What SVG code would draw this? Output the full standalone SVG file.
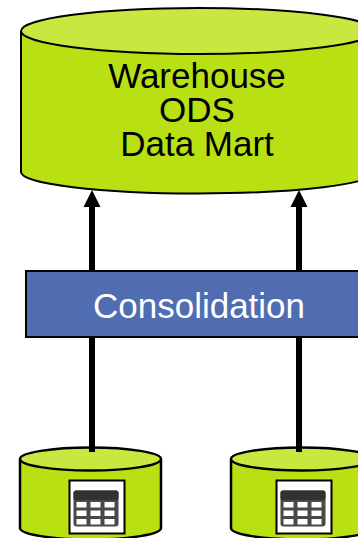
<svg xmlns="http://www.w3.org/2000/svg" xmlns:xlink="http://www.w3.org/1999/xlink" width="358" height="538" viewBox="0 0 358 538">
<style>
.body{fill:#b9e013;stroke:#000;stroke-width:2.5}
.top{fill:#c8e840;stroke:#000;stroke-width:2.5}
.big{stroke-width:2}
.lbl{font-family:"Liberation Sans",Arial,sans-serif;font-size:35px;text-anchor:middle}
.conn{stroke:#000;stroke-width:6;fill:none}
.head{fill:#000}
.frame{fill:#fff;stroke:#000;stroke-width:2}
.cell{fill:#fff}
</style>
<defs>
<filter id="soft" x="-10%" y="-10%" width="120%" height="120%"><feGaussianBlur stdDeviation="0.7"/></filter>
<g id="tableIcon">
<rect x="0.500" y="0.500" width="55" height="53" class="frame"/>
<g filter="url(#soft)">
<rect x="4.500" y="10.500" width="45" height="36" rx="3" fill="#484848"/>
<rect x="4.500" y="10.500" width="45" height="9.500" rx="2" fill="#333"/>
<rect x="7.500" y="22" width="10" height="5.500" class="cell"/>
<rect x="21.500" y="22" width="10" height="5.500" class="cell"/>
<rect x="35.500" y="22" width="10" height="5.500" class="cell"/>
<rect x="7.500" y="30.500" width="10" height="5.500" class="cell"/>
<rect x="21.500" y="30.500" width="10" height="5.500" class="cell"/>
<rect x="35.500" y="30.500" width="10" height="5.500" class="cell"/>
<rect x="7.500" y="39" width="10" height="5.500" class="cell"/>
<rect x="21.500" y="39" width="10" height="5.500" class="cell"/>
<rect x="35.500" y="39" width="10" height="5.500" class="cell"/>
</g>
</g>
</defs>
<g id="warehouse">
<path class="body big" d="M21 31V172A177 21.500 0 0 0 375 172V31"/>
<ellipse class="top big" cx="198" cy="31" rx="177" ry="23"/>
<text class="lbl" x="197" y="88">Warehouse</text>
<text class="lbl" x="197" y="122">ODS</text>
<text class="lbl" x="197" y="155.500">Data Mart</text>
</g>
<g id="source-left">
<path class="body" d="M20 459V528A70.500 11.500 0 0 0 161 528V459"/>
<ellipse class="top" cx="90.500" cy="459" rx="70.500" ry="11.500"/>
<use xlink:href="#tableIcon" href="#tableIcon" x="69" y="480"/>
</g>
<g id="source-right">
<path class="body" d="M231 459V528A70.500 11.500 0 0 0 372 528V459"/>
<ellipse class="top" cx="301.500" cy="459" rx="70.500" ry="11.500"/>
<use xlink:href="#tableIcon" href="#tableIcon" x="276" y="480"/>
</g>
<g id="connectors">
<path class="conn" d="M92 452V205"/>
<path class="conn" d="M299 452V205"/>
<path class="head" d="M92 190L83.500 207H100.500Z"/>
<path class="head" d="M299 190L290.500 207H307.500Z"/>
</g>
<g id="consolidation">
<rect x="26" y="271" width="345" height="66" fill="#4f6db0" stroke="#000" stroke-width="2"/>
<text class="lbl" x="199" y="318" fill="#fff">Consolidation</text>
</g>
</svg>
